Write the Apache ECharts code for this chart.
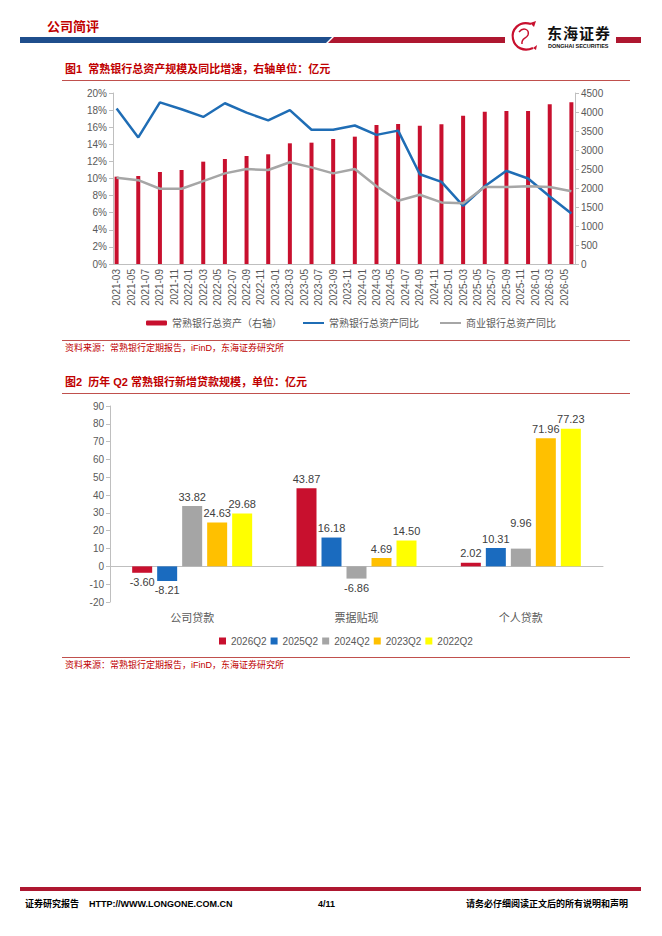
<!DOCTYPE html>
<html>
<head>
<meta charset="utf-8">
<title>常熟银行</title>
<script src="https://cdn.jsdelivr.net/npm/echarts@6/dist/echarts.min.js"></script>
<style>
  body { margin: 0; background: #fff; }
  #page { position: relative; width: 662px; height: 936px; overflow: hidden; background: #fff;
          font-family: "Liberation Sans", "Noto Sans CJK SC", sans-serif; }
  #chart { position: absolute; left: 0; top: 0; width: 662px; height: 936px; }
  .abs { position: absolute; white-space: nowrap; line-height: 1; }
  .fig-title { left: 65px; font-size: 11px; font-weight: bold; color: #C00000; }
  .rule { position: absolute; left: 62px; width: 568px; height: 1px; background: #C0504D; }
  .source { left: 65px; font-size: 9px; color: #C00000; }
  .foot { top: 900px; font-size: 9px; font-weight: bold; color: #000; }
</style>
</head>
<body>
<div id="page">
  <div id="chart"></div>

  <!-- 页眉 -->
  <div class="abs" style="left:47px;top:20px;font-size:13px;font-weight:bold;color:#C00000;">公司简评</div>
  <svg class="abs" style="left:0;top:30px" width="662" height="20">
    <polygon points="20,7 332,7 326,13 20,13" fill="#1F4E8C"/>
    <polygon points="334,7 505,7 505,13 328,13" fill="#AE1730"/>
    <polygon points="616,7 641,7 641,13 616,13" fill="#AE1730"/>
  </svg>
  <svg class="abs" style="left:508px;top:19px" width="36" height="34" viewBox="0 0 36 34">
    <path d="M23 5 C11 1 3 11 5 20 C7 29 16 33 25 29" fill="none" stroke="#C8102E" stroke-width="2.2"/>
    <path d="M11 13 C15 8 22 10 20 16 C18 20 13 19 14 25" fill="none" stroke="#C8102E" stroke-width="1.5"/>
    <path d="M22 4 L28 2 L26 8 Z" fill="#C8102E"/>
    <path d="M25 29 L29 26 L28 31 Z" fill="#C8102E"/>
  </svg>
  <div class="abs" style="left:547px;top:26px;font-size:15px;font-weight:bold;letter-spacing:1px;color:#111;">东海证券</div>
  <div class="abs" style="left:548px;top:44px;font-size:5.5px;font-weight:bold;color:#111;">DONGHAI SECURITIES</div>

  <!-- 图1 -->
  <div class="abs fig-title" style="top:64px;">图1&nbsp;&nbsp;常熟银行总资产规模及同比增速，右轴单位：亿元</div>
  <div class="rule" style="top:80px;"></div>
  <div class="rule" style="top:340px;"></div>
  <div class="abs source" style="top:344px;">资料来源：常熟银行定期报告，iFinD，东海证券研究所</div>

  <!-- 图2 -->
  <div class="abs fig-title" style="top:377px;">图2&nbsp;&nbsp;历年 Q2 常熟银行新增贷款规模，单位：亿元</div>
  <div class="rule" style="top:393px;"></div>
  <div class="rule" style="top:657px;"></div>
  <div class="abs source" style="top:661px;">资料来源：常熟银行定期报告，iFinD，东海证券研究所</div>

  <!-- 页脚 -->
  <div style="position:absolute;left:20px;top:887px;width:621px;height:4px;background:#AE1730;"></div>
  <div class="abs foot" style="left:25px;">证券研究报告&nbsp;&nbsp;&nbsp;&nbsp;HTTP://WWW.LONGONE.COM.CN</div>
  <div class="abs foot" style="left:318px;">4/11</div>
  <div class="abs foot" style="right:34px;">请务必仔细阅读正文后的所有说明和声明</div>
</div>

<script>
/*
 * 数据
 */
// 图1 横轴（月度）
var months = [
  '2021-03', '2021-04', '2021-05', '2021-06', '2021-07', '2021-08', '2021-09', '2021-10', '2021-11', '2021-12',
  '2022-01', '2022-02', '2022-03', '2022-04', '2022-05', '2022-06', '2022-07', '2022-08', '2022-09', '2022-10', '2022-11', '2022-12',
  '2023-01', '2023-02', '2023-03', '2023-04', '2023-05', '2023-06', '2023-07', '2023-08', '2023-09', '2023-10', '2023-11', '2023-12',
  '2024-01', '2024-02', '2024-03', '2024-04', '2024-05', '2024-06', '2024-07', '2024-08', '2024-09', '2024-10', '2024-11', '2024-12',
  '2025-01', '2025-02', '2025-03', '2025-04', '2025-05', '2025-06', '2025-07', '2025-08', '2025-09', '2025-10', '2025-11', '2025-12',
  '2026-01', '2026-02', '2026-03', '2026-04', '2026-05', '2026-06'
];
// 季度数据点
var quarters = [
  '2021-03', '2021-06', '2021-09', '2021-12', '2022-03', '2022-06', '2022-09', '2022-12',
  '2023-03', '2023-06', '2023-09', '2023-12', '2024-03', '2024-06', '2024-09', '2024-12',
  '2025-03', '2025-06', '2025-09', '2025-12', '2026-03', '2026-06'
];
var totalAssets = [2298, 2316, 2421, 2474, 2693, 2763, 2842, 2887, 3176, 3193, 3290, 3351,
  3658, 3684, 3640, 3676, 3903, 4009, 4026, 4026, 4202, 4255]; // 常熟银行总资产（亿元）
var assetsYoY = [18.2, 14.8, 18.9, 18.1, 17.2, 18.8, 17.7, 16.8, 18.0, 15.7, 15.7, 16.2,
  15.1, 15.6, 10.5, 9.6, 6.8, 9.1, 10.9, 10.0, 7.9, 5.9]; // 常熟银行总资产同比（%）
var bankYoY = [10.1, 9.8, 8.8, 8.8, 9.7, 10.6, 11.1, 11.0, 11.9, 11.3, 10.6, 11.1,
  9.1, 7.4, 8.1, 7.2, 7.1, 9.0, 9.0, 9.1, 9.0, 8.5]; // 商业银行总资产同比（%）

// 图2
var loanTypes = ['公司贷款', '票据贴现', '个人贷款'];
var years = ['2026Q2', '2025Q2', '2024Q2', '2023Q2', '2022Q2'];
var loans2026 = [-3.60, 43.87, 2.02];
var loans2025 = [-8.21, 16.18, 10.31];
var loans2024 = [33.82, -6.86, 9.96];
var loans2023 = [24.63, 4.69, 71.96];
var loans2022 = [29.68, 14.50, 77.23];

/*
 * 样式
 */
var FONT = '"Liberation Sans", "Noto Sans CJK SC", sans-serif';
var axisGray = '#BFBFBF';
var textGray = '#595959';
var yearColors = ['#C8102E', '#1A6BBF', '#A5A5A5', '#FFC000', '#FFFF00'];

function pairs(keys, vals) {
  return keys.map(function (k, i) { return [k, vals[i]]; });
}

function valueAxis(grid, pos, min, max, step, fmt) {
  return {
    type: 'value',
    gridIndex: grid,
    position: pos,
    min: min,
    max: max,
    interval: step,
    axisLine: { show: true, lineStyle: { color: axisGray } },
    axisTick: { show: true, length: 4, lineStyle: { color: axisGray } },
    splitLine: { show: false },
    axisLabel: {
      formatter: fmt || function (v) { return String(v); },
      color: textGray, fontSize: 10, margin: 6, fontFamily: FONT
    }
  };
}

// 新增贷款柱，负值标签放在柱下方
function loanSeries(name, vals, idx) {
  return {
    name: name,
    type: 'bar',
    xAxisIndex: 1,
    yAxisIndex: 2,
    barWidth: 20,
    barGap: '25%',
    itemStyle: { color: yearColors[idx] },
    label: {
      show: true,
      position: 'top',
      distance: 4,
      color: '#404040',
      fontSize: 11,
      fontFamily: FONT,
      formatter: function (p) { return p.value.toFixed(2); }
    },
    data: vals.map(function (v, i) {
      var item = { value: v };
      if (v < 0) item.label = { position: 'bottom' };
      // 原图 2024Q2 个人贷款标签被手动上移
      if (name === '2024Q2' && i === 2) item.label = { offset: [0, -16] };
      return item;
    })
  };
}

var chart = echarts.init(document.getElementById('chart'), null, { renderer: 'svg' });

var option = {
  animation: false,
  textStyle: { fontFamily: FONT },
  grid: [
    { left: 113, top: 93, width: 462, height: 171 },
    { left: 110, top: 406, width: 493, height: 196 }
  ],
  legend: [{
    data: [
      { name: '常熟银行总资产（右轴）' },
      { name: '常熟银行总资产同比', itemStyle: { opacity: 0 } },
      { name: '商业银行总资产同比', itemStyle: { opacity: 0 } }
    ],
    left: 141,
    top: 313,
    itemWidth: 21,
    itemHeight: 5,
    itemGap: 20,
    selectedMode: false,
    textStyle: { color: textGray, fontSize: 10, fontFamily: FONT }
  }, {
    data: years,
    left: 214,
    top: 631,
    icon: 'rect',
    itemWidth: 7,
    itemHeight: 7,
    itemGap: 4,
    selectedMode: false,
    textStyle: { color: textGray, fontSize: 10, fontFamily: FONT }
  }],
  xAxis: [{
    type: 'category',
    gridIndex: 0,
    data: months,
    boundaryGap: true,
    axisLine: { lineStyle: { color: axisGray } },
    axisTick: { interval: 1, alignWithLabel: true, length: 3, lineStyle: { color: axisGray } },
    axisLabel: { interval: 1, rotate: 90, color: textGray, fontSize: 10, margin: 5, fontFamily: FONT }
  }, {
    type: 'category',
    gridIndex: 1,
    position: 'bottom',
    data: loanTypes,
    axisLine: { onZero: true, lineStyle: { color: axisGray } },
    axisTick: { length: 3, lineStyle: { color: axisGray } },
    axisLabel: { show: false }
  }, {
    type: 'category',
    gridIndex: 1,
    position: 'bottom',
    data: loanTypes,
    axisLine: { show: false, onZero: false },
    axisTick: { show: false },
    axisLabel: { color: textGray, fontSize: 11, margin: 10, fontFamily: FONT }
  }],
  yAxis: [
    valueAxis(0, 'left', 0, 20, 2, '{value}%'),
    valueAxis(0, 'right', 0, 4500, 500),
    valueAxis(1, 'left', -20, 90, 10)
  ],
  series: [{
    name: '常熟银行总资产（右轴）',
    type: 'bar',
    xAxisIndex: 0,
    yAxisIndex: 1,
    barWidth: 4,
    itemStyle: { color: '#C8102E' },
    data: pairs(quarters, totalAssets)
  }, {
    name: '常熟银行总资产同比',
    type: 'line',
    xAxisIndex: 0,
    yAxisIndex: 0,
    symbol: 'none',
    lineStyle: { color: '#1F6DB5', width: 2.5 },
    itemStyle: { color: '#1F6DB5' },
    data: pairs(quarters, assetsYoY)
  }, {
    name: '商业银行总资产同比',
    type: 'line',
    xAxisIndex: 0,
    yAxisIndex: 0,
    symbol: 'none',
    lineStyle: { color: '#A6A6A6', width: 2.5 },
    itemStyle: { color: '#A6A6A6' },
    data: pairs(quarters, bankYoY)
  },
    loanSeries('2026Q2', loans2026, 0),
    loanSeries('2025Q2', loans2025, 1),
    loanSeries('2024Q2', loans2024, 2),
    loanSeries('2023Q2', loans2023, 3),
    loanSeries('2022Q2', loans2022, 4)
  ]
};

chart.setOption(option);
</script>
</body>
</html>
